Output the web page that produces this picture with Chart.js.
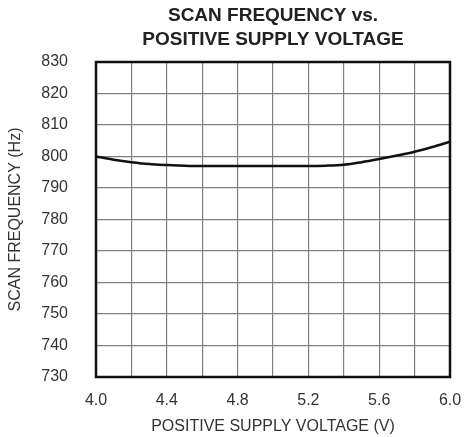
<!DOCTYPE html>
<html>
<head>
<meta charset="utf-8">
<script src="https://cdn.jsdelivr.net/npm/chart.js@4/dist/chart.umd.min.js"></script>
<style>
  html, body { margin: 0; padding: 0; background: #fff; }
  #wrap { width: 464px; height: 437px; }
</style>
</head>
<body>
<div id="wrap"><canvas id="c" width="464" height="437"></canvas></div>
<script>
const titleLines = ['SCAN FREQUENCY vs.', 'POSITIVE SUPPLY VOLTAGE'];
const xAxisTitle = 'POSITIVE SUPPLY VOLTAGE (V)';
const yAxisTitle = 'SCAN FREQUENCY (Hz)';
const voltage = [4.0, 4.1, 4.2, 4.3, 4.4, 4.5, 4.6, 4.8, 5.0, 5.2, 5.3, 5.4, 5.5, 5.6, 5.7, 5.8, 5.9, 6.0];
const frequency = [800.0, 799.0, 798.2, 797.6, 797.3, 797.1, 797.0, 797.0, 797.0, 797.0, 797.1, 797.4, 798.2, 799.2, 800.3, 801.5, 803.0, 804.7];
const xMin = 4.0, xMax = 6.0, xStep = 0.2;
const yMin = 730, yMax = 830, yStep = 10;

const FONT = '"Liberation Sans", Arial, Helvetica, sans-serif';
const TEXT = '#333';

const framePlugin = {
  id: 'frame',
  afterDatasetsDraw(chart) {
    const { ctx, chartArea: a } = chart;
    ctx.save();
    ctx.strokeStyle = '#111';
    ctx.lineWidth = 2.5;
    ctx.strokeRect(a.left, a.top, a.right - a.left, a.bottom - a.top);
    ctx.restore();
  },
  afterDraw(chart) {
    const { ctx, chartArea: a } = chart;
    const cx = (a.left + a.right) / 2;
    ctx.save();
    ctx.fillStyle = '#222';
    ctx.font = 'bold 19px ' + FONT;
    ctx.textAlign = 'center';
    ctx.textBaseline = 'alphabetic';
    ctx.fillText(titleLines[0], cx, 21);
    ctx.fillText(titleLines[1], cx, 45);
    ctx.restore();
  }
};

new Chart(document.getElementById('c'), {
  type: 'scatter',
  data: {
    datasets: [{
      data: voltage.map((v, i) => ({ x: v, y: frequency[i] })),
      showLine: true,
      borderColor: '#111',
      borderWidth: 2.5,
      pointRadius: 0,
      tension: 0.4,
      cubicInterpolationMode: 'monotone',
      fill: false
    }]
  },
  options: {
    responsive: false,
    animation: false,
    layout: { padding: { top: 62, right: 14, left: 0, bottom: 0 } },
    plugins: { legend: { display: false }, tooltip: { enabled: false }, title: { display: false } },
    scales: {
      x: {
        type: 'linear',
        min: xMin, max: xMax,
        afterFit(scale) { scale.height = 60; scale.paddingLeft = 0; scale.paddingRight = 0; },
        ticks: {
          stepSize: xStep,
          autoSkip: false,
          maxRotation: 0,
          padding: 14,
          color: TEXT,
          font: { family: FONT, size: 16 },
          callback(value, index) { return index % 2 === 0 ? Number(value).toFixed(1) : ''; }
        },
        grid: { color: '#808080', lineWidth: 1.2, drawTicks: false },
        border: { display: false },
        title: { display: true, text: xAxisTitle, color: TEXT, font: { family: FONT, size: 16 }, padding: { top: 0, bottom: 1 } }
      },
      y: {
        type: 'linear',
        min: yMin, max: yMax,
        afterFit(scale) { scale.width = 96; scale.paddingTop = 0; scale.paddingBottom = 0; },
        ticks: {
          stepSize: yStep,
          padding: 28,
          color: TEXT,
          font: { family: FONT, size: 16 }
        },
        grid: { color: '#808080', lineWidth: 1.2, drawTicks: false },
        border: { display: false },
        title: { display: true, text: yAxisTitle, color: TEXT, font: { family: FONT, size: 16 }, padding: { top: 6, bottom: 0 } }
      }
    }
  },
  plugins: [framePlugin]
});
</script>
</body>
</html>
